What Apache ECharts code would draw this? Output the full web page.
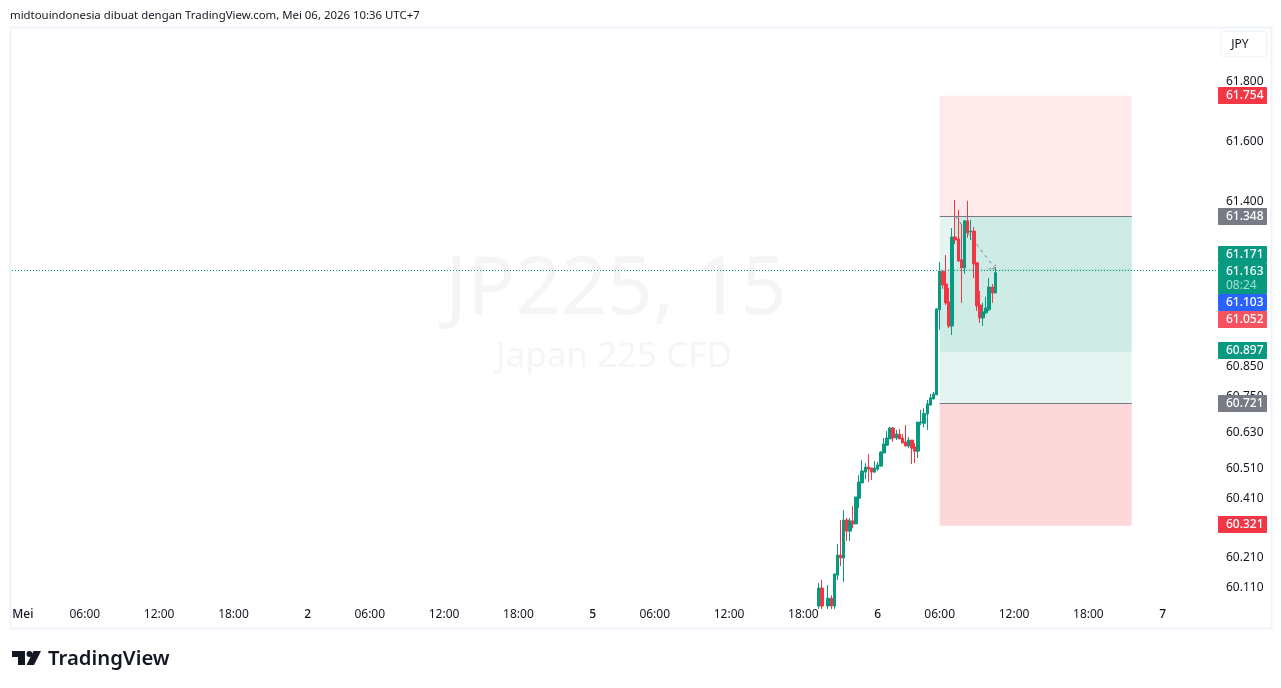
<!DOCTYPE html>
<html><head><meta charset="utf-8">
<style>html,body{margin:0;padding:0;background:#fff}#c{width:1281px;height:688px}</style>
<script src="https://cdn.jsdelivr.net/npm/echarts@6/dist/echarts.min.js"></script></head>
<body><div id="c"></div>
<script>
const opens  = [60.05,60.110,null,60.05,60.076,60.05,60.153,60.220,60.210,60.337,60.300,60.334,60.324,60.410,60.461,60.497,60.514,60.511,60.497,60.507,60.517,60.561,60.587,60.608,60.644,60.611,60.624,60.611,60.598,60.584,60.604,60.581,60.567,60.662,60.660,60.691,60.721,60.741,60.755,61.039,61.168,61.125,61.065,60.985,61.282,61.276,61.206,61.179,61.336,61.299,61.302,61.196,61.055,61.012,61.029,61.039,61.115,61.095];
const closes = [60.110,60.05,null,60.076,60.05,60.157,60.220,60.210,60.337,60.300,60.334,60.324,60.414,60.464,60.501,60.514,60.507,60.497,60.511,60.521,60.564,60.591,60.611,60.644,60.611,60.624,60.608,60.594,60.584,60.604,60.577,60.567,60.664,60.664,60.693,60.725,60.745,60.758,61.042,61.168,61.122,61.062,60.985,61.282,61.272,61.202,61.179,61.336,61.296,61.302,61.192,61.052,61.012,61.032,61.045,61.115,61.095,61.163];
const lows   = [60.04,60.04,null,60.04,60.04,60.04,60.137,60.183,60.130,60.267,60.267,60.310,60.324,60.377,60.461,60.474,60.464,60.471,60.494,60.501,60.517,60.561,60.584,60.608,60.598,60.604,60.608,60.594,60.584,60.577,60.524,60.527,60.544,60.654,60.647,60.638,60.718,60.741,60.755,60.972,61.109,61.055,60.978,60.955,61.259,61.199,61.062,61.159,61.279,61.272,61.145,61.035,60.995,60.985,61.025,61.035,61.062,61.095];
const highs  = [60.127,60.137,null,60.120,60.086,60.159,60.257,60.337,60.370,60.344,60.344,60.384,60.414,60.487,60.537,60.527,60.557,60.511,60.534,60.531,60.567,60.611,60.634,60.648,60.648,60.638,60.641,60.624,60.654,60.614,60.604,60.594,60.664,60.705,60.710,60.738,60.758,60.765,61.044,61.199,61.172,61.222,61.112,61.312,61.406,61.373,61.326,61.339,61.403,61.339,61.316,61.196,61.102,61.062,61.082,61.145,61.125,61.179];
const priceTicks = [61.800,61.600,61.400,60.850,60.750,60.630,60.510,60.410,60.210,60.110];
const timeTicks = ['Mei','06:00','12:00','18:00','2','06:00','12:00','18:00','5','06:00','12:00','18:00','6','06:00','12:00','18:00','7'];
const dayLabels = ['Mei','2','5','6','7'];
const tagTexts = ['61.754','61.348','61.171','61.163','61.103','61.052','60.897','60.721','60.321'];
const targetPrice = 61.754, entryPrice = 61.351, stopPrice = 60.727, lowerTarget = 60.318;
const lastPrice = 61.168, markPrice = 61.176, profitFloor = 60.899;

// layout
const barsPerSession = 92, leadSlots = 3, slotCount = 390;
const tickOffsets = [0,20,44,68];           // bars from session start
const firstCandle = 257 + leadSlots;        // slot of first visible candle
const zoneStart = 296 + leadSlots, zoneMid = 301 + leadSlots, zoneEnd = 358 + leadSlots;

const categories = new Array(slotCount).fill('');
timeTicks.forEach((t, i) => {
  const session = Math.floor(i / 4);
  categories[leadSlots + session * barsPerSession + tickOffsets[i % 4]] = t;
});
const candles = [];
opens.forEach((o, i) => { if (o !== null) candles.push([firstCandle + i, o, closes[i], lows[i], highs[i]]); });
const lastSlot = firstCandle + opens.length - 1;

const FONT = '"Noto Sans", sans-serif';
const tag = (text, fill, top, h) => ({
  type: 'group', z: 100, silent: true, children: [
    { type: 'rect', z: 100, shape: { x: 1218, y: top, width: 49, height: h || 17, r: 1 }, style: { fill } },
    { type: 'text', z: 101, style: { x: 1226, y: top + 9, text, fill: '#fff', font: '500 12px ' + FONT, verticalAlign: 'middle' } }
  ]
});

const chart = echarts.init(document.getElementById('c'), null, { renderer: 'canvas' });
chart.setOption({
  animation: false,
  backgroundColor: '#ffffff',
  grid: { left: 12, top: 28, width: 1208, height: 572, containLabel: false },
  xAxis: {
    type: 'category', data: categories, boundaryGap: true,
    axisLine: { show: false }, axisTick: { show: false }, splitLine: { show: false },
    axisLabel: {
      interval: (i, v) => v !== '', margin: 9, hideOverlap: false,
      color: '#131722', fontFamily: FONT, fontSize: 12,
      formatter: v => dayLabels.includes(v) ? '{d|' + v + '}' : v,
      rich: { d: { fontWeight: 500, fontSize: 12, fontFamily: FONT, color: '#131722' } }
    }
  },
  yAxis: {
    type: 'value', position: 'right', min: 60.07, max: 61.98, scale: true,
    axisLine: { show: false }, axisTick: { show: false }, splitLine: { show: false },
    axisLabel: {
      customValues: priceTicks, margin: 6, color: '#131722', fontFamily: FONT, fontSize: 12,
      padding: [4, 0, 0, 0], hideOverlap: false, formatter: v => v.toFixed(3)
    }
  },
  series: [
    {
      type: 'candlestick', data: candles, encode: { x: 0, y: [1, 2, 3, 4] },
      barWidth: 3, large: false, progressive: 0,
      itemStyle: { color: '#089981', color0: '#f23645', borderColor: '#089981', borderColor0: '#f23645', borderWidth: 1 },
      markArea: {
        silent: true,
        data: [
          [{ xAxis: zoneStart, yAxis: targetPrice, itemStyle: { color: '#feeaeb' } }, { xAxis: zoneEnd, yAxis: entryPrice }],
          [{ xAxis: zoneStart, yAxis: entryPrice, itemStyle: { color: '#e5f4f1' } }, { xAxis: zoneEnd, yAxis: stopPrice }],
          [{ xAxis: zoneStart, yAxis: stopPrice, itemStyle: { color: '#fcd7da' } }, { xAxis: zoneEnd, yAxis: lowerTarget }],
          [{ xAxis: zoneMid, yAxis: entryPrice, itemStyle: { color: 'rgba(8,153,129,0.1)' } }, { xAxis: zoneEnd, yAxis: lastPrice }],
          [{ xAxis: zoneStart, yAxis: markPrice, itemStyle: { color: 'rgba(8,153,129,0.1)' } }, { xAxis: zoneEnd, yAxis: profitFloor }]
        ]
      },
      markLine: {
        silent: true, symbol: 'none', label: { show: false }, animation: false,
        data: [
          { yAxis: lastPrice, lineStyle: { color: '#089981', type: [1, 2], width: 1 } },
          [{ xAxis: zoneStart, yAxis: entryPrice, lineStyle: { color: '#787b86', type: 'solid', width: 1 } }, { xAxis: zoneEnd, yAxis: entryPrice }],
          [{ xAxis: zoneStart, yAxis: stopPrice, lineStyle: { color: '#787b86', type: 'solid', width: 1 } }, { xAxis: zoneEnd, yAxis: stopPrice }]
        ]
      }
    },
    {
      type: 'line', symbol: 'none', silent: true, z: 3, lineStyle: { color: '#787b86', type: [3, 4], width: 1 },
      data: [[zoneMid, entryPrice], [lastSlot, markPrice]]
    },
    {
      type: 'line', symbol: 'none', silent: true, z: 3, lineStyle: { color: '#787b86', type: [2, 1], width: 1 },
      data: [[lastSlot - 2, markPrice], [lastSlot, markPrice], [lastSlot, 61.19]]
    }
  ],
  graphic: [
    { type: 'text', z: -1, silent: true, style: { x: 616, y: 291, text: 'JP225, 15', fill: '#f5f5f5', font: '80px ' + FONT, align: 'center', verticalAlign: 'middle' } },
    { type: 'text', z: -1, silent: true, style: { x: 614, y: 357, text: 'Japan 225 CFD', fill: '#f5f5f5', font: '35px ' + FONT, align: 'center', verticalAlign: 'middle' } },
    { type: 'text', silent: true, style: { x: 10, y: 15.5, text: 'midtouindonesia dibuat dengan TradingView.com, Mei 06, 2026 10:36 UTC+7', fill: '#131722', font: '11.4px ' + FONT, verticalAlign: 'middle' } },
    { type: 'rect', silent: true, z: -2, shape: { x: 10.5, y: 27.5, width: 1261, height: 601 }, style: { fill: 'none', stroke: '#f0f3fa', lineWidth: 2 } },
    { type: 'rect', silent: true, z: 5, shape: { x: 1221, y: 31, width: 46, height: 26, r: 4 }, style: { fill: '#fff', stroke: '#f0f3fa', lineWidth: 1.5 } },
    { type: 'text', silent: true, z: 6, style: { x: 1240, y: 45, text: 'JPY', fill: '#131722', font: '12px ' + FONT, align: 'center', verticalAlign: 'middle' } },
    tag(tagTexts[0], '#f23645', 87),
    tag(tagTexts[1], '#787b86', 208),
    tag(tagTexts[2], '#089981', 246),
    tag(tagTexts[3], '#089981', 263, 31),
    { type: 'text', silent: true, z: 102, style: { x: 1226, y: 285.5, text: '08:24', fill: '#a8dfd2', font: '12px ' + FONT, verticalAlign: 'middle' } },
    tag(tagTexts[4], '#2962ff', 294),
    tag(tagTexts[5], '#f7525f', 311),
    tag(tagTexts[6], '#089981', 342),
    tag(tagTexts[7], '#787b86', 395),
    tag(tagTexts[8], '#f23645', 516),
    { type: 'polygon', silent: true, shape: { points: [[12,651],[25,651],[25,665],[18,665],[18,657],[12,657]] }, style: { fill: '#131722' } },
    { type: 'circle', silent: true, shape: { cx: 29.5, cy: 654, r: 3 }, style: { fill: '#131722' } },
    { type: 'polygon', silent: true, shape: { points: [[33.5,651],[41,651],[34,665],[26.5,665]] }, style: { fill: '#131722' } },
    { type: 'text', silent: true, style: { x: 48, y: 659, text: 'TradingView', fill: '#131722', font: '600 20.3px ' + FONT, verticalAlign: 'middle' } }
  ]
});
</script></body></html>
